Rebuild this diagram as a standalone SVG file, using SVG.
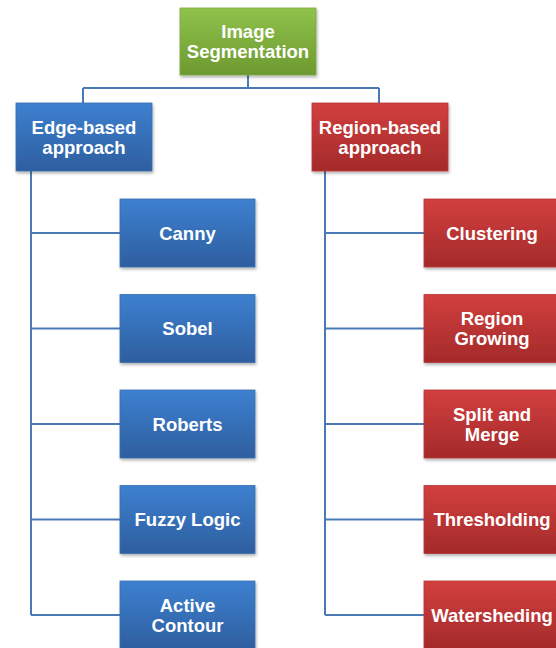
<svg xmlns="http://www.w3.org/2000/svg" width="556" height="648" viewBox="0 0 556 648">
<style>
.t{font-family:"Liberation Sans",Arial,sans-serif;font-weight:bold;font-size:18.5px;fill:#fff;text-anchor:middle}
.c{fill:none;stroke:#4a7ab5;stroke-width:2}
.bl{fill:url(#gb);stroke:#3a6fb0;stroke-width:0.8}
.rd{fill:url(#gr);stroke:#b83535;stroke-width:0.8}
.gn{fill:url(#gg);stroke:#7aa83c;stroke-width:0.8}
</style>
<defs>
<linearGradient id="gb" x1="0" y1="0" x2="0" y2="1"><stop offset="0" stop-color="#3d80d0"/><stop offset="1" stop-color="#2e5e9f"/></linearGradient>
<linearGradient id="gr" x1="0" y1="0" x2="0" y2="1"><stop offset="0" stop-color="#d23f3f"/><stop offset="1" stop-color="#a42a2a"/></linearGradient>
<linearGradient id="gg" x1="0" y1="0" x2="0" y2="1"><stop offset="0" stop-color="#90c24c"/><stop offset="1" stop-color="#6d9930"/></linearGradient>
<filter id="sh" x="-10%" y="-10%" width="125%" height="130%"><feDropShadow dx="1" dy="2" stdDeviation="1.5" flood-color="#000" flood-opacity="0.3"/></filter>
</defs>
<g id="connectors">
<path class="c" d="M248 75V88M83 88H379M83 88V103M379 88V103"/>
<path class="c" d="M31 171V615M31 233H120M31 328.5H120M31 424H120M31 519.5H120M31 615H120"/>
<path class="c" d="M325 171V615M325 233H424M325 328.5H424M325 424H424M325 519.5H424M325 615H424"/>
</g>
<g id="root"><rect class="gn" filter="url(#sh)" x="180" y="8" width="136" height="67"/><text class="t" x="248" y="38">Image</text><text class="t" x="248" y="58">Segmentation</text></g>
<g id="edge"><rect class="bl" filter="url(#sh)" x="16" y="103" width="136" height="68"/><text class="t" x="84" y="133.5">Edge-based</text><text class="t" x="84" y="153.5">approach</text></g>
<g id="region"><rect class="rd" filter="url(#sh)" x="312" y="103" width="136" height="68"/><text class="t" x="380" y="133.5">Region-based</text><text class="t" x="380" y="153.5">approach</text></g>
<g id="canny"><rect class="bl" filter="url(#sh)" x="120" y="199" width="135" height="68"/><text class="t" x="187.5" y="239.5">Canny</text></g>
<g id="sobel"><rect class="bl" filter="url(#sh)" x="120" y="294.5" width="135" height="68"/><text class="t" x="187.5" y="335">Sobel</text></g>
<g id="roberts"><rect class="bl" filter="url(#sh)" x="120" y="390" width="135" height="68"/><text class="t" x="187.5" y="430.5">Roberts</text></g>
<g id="fuzzy"><rect class="bl" filter="url(#sh)" x="120" y="485.5" width="135" height="68"/><text class="t" x="187.5" y="526">Fuzzy Logic</text></g>
<g id="active"><rect class="bl" filter="url(#sh)" x="120" y="581" width="135" height="68"/><text class="t" x="187.5" y="611.5">Active</text><text class="t" x="187.5" y="631.5">Contour</text></g>
<g id="clustering"><rect class="rd" filter="url(#sh)" x="424" y="199" width="136" height="68"/><text class="t" x="492" y="239.5">Clustering</text></g>
<g id="growing"><rect class="rd" filter="url(#sh)" x="424" y="294.5" width="136" height="68"/><text class="t" x="492" y="325">Region</text><text class="t" x="492" y="345">Growing</text></g>
<g id="split"><rect class="rd" filter="url(#sh)" x="424" y="390" width="136" height="68"/><text class="t" x="492" y="420.5">Split and</text><text class="t" x="492" y="440.5">Merge</text></g>
<g id="thresholding"><rect class="rd" filter="url(#sh)" x="424" y="485.5" width="136" height="68"/><text class="t" x="492" y="526">Thresholding</text></g>
<g id="watershed"><rect class="rd" filter="url(#sh)" x="424" y="581" width="136" height="68"/><text class="t" x="492" y="621.5">Watersheding</text></g>
</svg>
